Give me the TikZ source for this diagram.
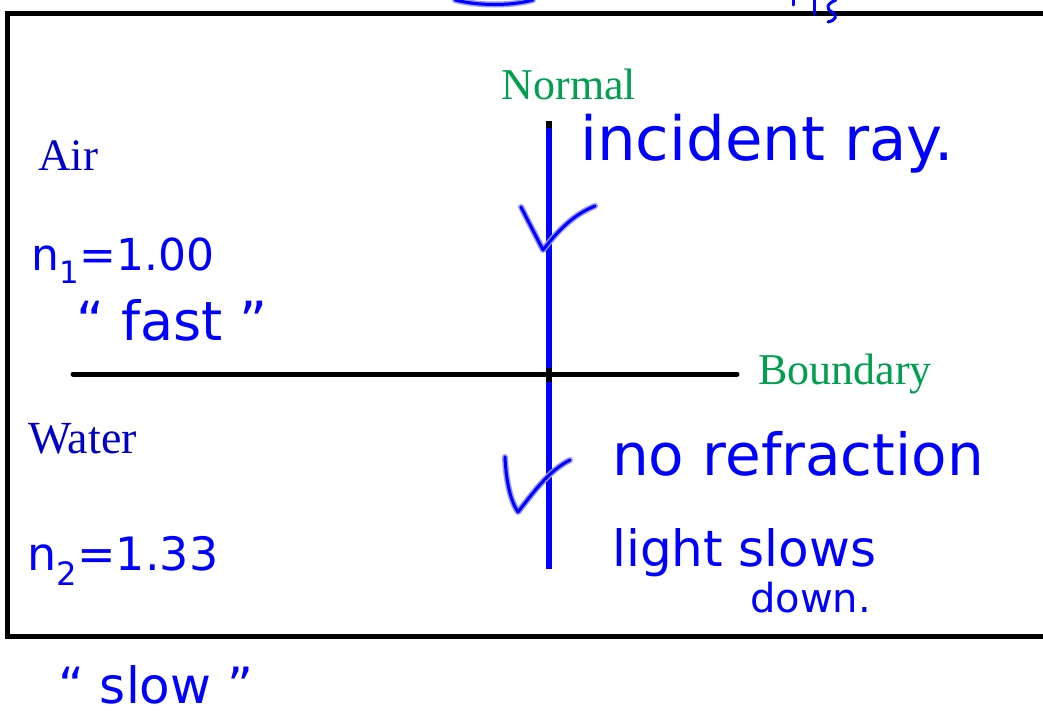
\documentclass[tikz,border=0pt]{standalone}
\usepackage{fontspec}
\setmainfont{Liberation Serif}
\newfontfamily\hand{DejaVu Sans}
\definecolor{labelblue}{RGB}{0,0,200}
\definecolor{labelgreen}{RGB}{0,160,80}
\definecolor{ink}{RGB}{0,0,255}
\definecolor{inkhalo}{RGB}{150,150,255}
\begin{document}
\begin{tikzpicture}[x=1pt,y=-1pt,
  lbl/.style={inner sep=0pt,anchor=base west,font=\fontsize{44}{50}\selectfont},
  handtxt/.style={inner sep=0pt,anchor=base west,text=ink},
  stroke/.style={ink,line width=3pt,line cap=round,line join=round},
  halo/.style={inkhalo,line width=6pt,line cap=round,line join=round}]
\useasboundingbox (0,0) rectangle (1043,713);
\clip (0,0) rectangle (1043,713);
% frame (right side off picture)
\draw[line width=5pt] (1060,13) -- (7,13) -- (7,636) -- (1060,636);
% normal and ray
\coordinate (ntop) at (549,121);
\coordinate (nmid) at (549,382);
\draw[line width=6pt] (ntop) -- (nmid);
\coordinate (rtop) at (549,128);
\coordinate (rgap1) at (549,368);
\coordinate (rgap2) at (549,382);
\coordinate (rbot) at (549,569);
\draw[ink,line width=6pt] (rtop) -- (rgap1);
\draw[ink,line width=6pt] (rgap2) -- (rbot);
% boundary
\coordinate (bl) at (73,374);
\coordinate (br) at (737,374);
\draw[line width=5pt,line cap=round] (bl) -- (br);
% printed labels
\node[lbl,text=labelgreen,anchor=base] (normal) at (569,99) {Normal};
\node[lbl,text=labelgreen] (boundary) at (758,384) {Boundary};
\node[lbl,text=labelblue,font=\fontsize{45}{50}\selectfont] (air) at (38,170) {Air};
\node[lbl,text=labelblue,font=\fontsize{46}{50}\selectfont] (water) at (28,453) {Water};
% handwritten arrow heads
\draw[halo] (521,207) -- (543,250) .. controls (560,228) and (575,214) .. (595,206);
\draw[stroke] (521,207) -- (543,250) .. controls (560,228) and (575,214) .. (595,206);
\draw[halo] (505,457) .. controls (506,480) and (510,500) .. (518,512) .. controls (535,490) and (550,470) .. (570,460);
\draw[stroke] (505,457) .. controls (506,480) and (510,500) .. (518,512) .. controls (535,490) and (550,470) .. (570,460);
% cut-off handwriting at top
\draw[halo] (455,0) .. controls (480,6) and (510,6) .. (533,0);
\draw[stroke] (455,0) .. controls (480,6) and (510,6) .. (533,0);
\draw[stroke] (793,0) -- (793,5);
\draw[stroke] (814,0) -- (814,14);
\draw[stroke] (836,0) .. controls (826,4) and (826,9) .. (832,12) .. controls (838,16) and (836,20) .. (828,22);
% handwritten notes
\node[handtxt,font=\hand\fontsize{61}{64}\selectfont] (incident) at (580,160) {incident ray.};
\node[handtxt,font=\hand\fontsize{44}{50}\selectfont] (n1) at (31,270) {n\textsubscript{1}=1.00};
\node[handtxt,font=\hand\fontsize{54}{58}\selectfont] (fast) at (76,340) {“ fast ”};
\node[handtxt,font=\hand\fontsize{46}{50}\selectfont] (n2) at (27,570) {n\textsubscript{2}=1.33};
\node[handtxt,font=\hand\fontsize{50}{54}\selectfont] (slow) at (58,703) {“ slow ”};
\node[handtxt,font=\hand\fontsize{58}{60}\selectfont] (norefr) at (612,475) {no refraction};
\node[handtxt,font=\hand\fontsize{50}{54}\selectfont] (light) at (612,566) {light slows};
\node[handtxt,font=\hand\fontsize{40}{44}\selectfont] (down) at (750,612) {down.};
\end{tikzpicture}
\end{document}
